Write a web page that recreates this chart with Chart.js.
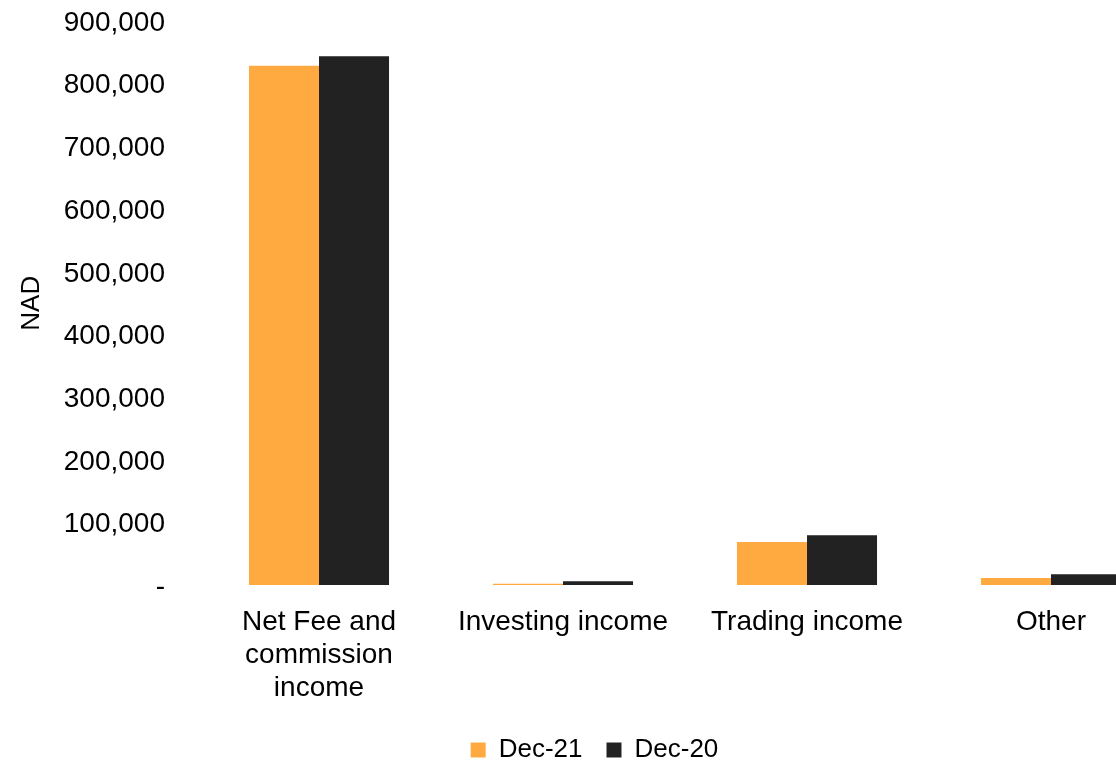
<!DOCTYPE html>
<html>
<head>
<meta charset="utf-8">
<script src="https://cdn.jsdelivr.net/npm/chart.js@4"></script>
<style>
  html, body { margin: 0; padding: 0; background: #fff; overflow: hidden; }
  #wrap { width: 1180px; height: 763px; position: relative; }
</style>
</head>
<body>
<div id="wrap"><canvas id="incomeChart"></canvas></div>
<script>
// Income by type, NAD
const categories = [
    ['Net Fee and', 'commission', 'income'],
    'Investing income',
    'Trading income',
    'Other'
];
const dec21 = [828700, 2900, 69400, 12000];
const dec20 = [843700, 6700, 80000, 17800];
const yTicks = [0, 100000, 200000, 300000, 400000, 500000, 600000, 700000, 800000, 900000];

const font = 'Liberation Sans, Arial, sans-serif';

new Chart(document.getElementById('incomeChart').getContext('2d'), {
    type: 'bar',
    data: {
        labels: categories,
        datasets: [
            { label: 'Dec-21', data: dec21, backgroundColor: '#FFAA40' },
            { label: 'Dec-20', data: dec20, backgroundColor: '#222222' }
        ]
    },
    options: {
        responsive: true,
        maintainAspectRatio: false,
        animation: false,
        categoryPercentage: 0.574,
        barPercentage: 1.0,
        layout: { padding: { top: 21, right: 7, left: 16, bottom: 0 } },
        plugins: {
            tooltip: { enabled: false },
            legend: {
                position: 'bottom',
                maxHeight: 50,
                labels: {
                    color: '#000',
                    font: { family: font, size: 26 },
                    boxWidth: 15,
                    boxHeight: 15,
                    padding: 24
                }
            }
        },
        scales: {
            x: {
                grid: { display: false, drawTicks: false },
                border: { display: false },
                afterFit: (axis) => { axis.height = 127.5; },
                ticks: {
                    color: '#000',
                    padding: 20.5,
                    maxRotation: 0,
                    autoSkip: false,
                    font: { family: font, size: 28, lineHeight: 1.18 }
                }
            },
            y: {
                min: 0,
                max: 900000,
                // transparent tick marks keep the labels clear of the bars
                grid: { display: true, drawOnChartArea: false, drawTicks: true, tickLength: 32, color: 'rgba(0,0,0,0)' },
                border: { display: false },
                afterBuildTicks: (axis) => { axis.ticks = yTicks.map(v => ({ value: v })); },
                afterFit: (axis) => { axis.width = 181; },
                title: {
                    display: true,
                    text: 'NAD',
                    color: '#000',
                    font: { family: font, size: 26 },
                    padding: { top: 0, bottom: 0 }
                },
                ticks: {
                    color: '#000',
                    padding: 0,
                    labelOffset: 2,
                    font: { family: font, size: 28 },
                    callback: (v) => v === 0 ? '-' : v.toLocaleString('en-US')
                }
            }
        }
    }
});
</script>
</body>
</html>
